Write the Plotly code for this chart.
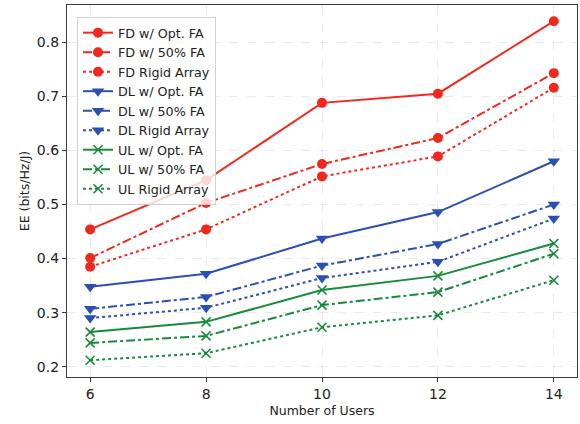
import plotly.graph_objects as go

users = [6, 8, 10, 12, 14]

fd_opt = [0.454, 0.545, 0.688, 0.705, 0.839]
fd_50 = [0.401, 0.503, 0.575, 0.623, 0.743]
fd_rigid = [0.385, 0.454, 0.552, 0.589, 0.716]

dl_opt = [0.348, 0.372, 0.437, 0.486, 0.580]
dl_50 = [0.307, 0.329, 0.387, 0.427, 0.500]
dl_rigid = [0.290, 0.309, 0.364, 0.394, 0.474]

ul_opt = [0.264, 0.283, 0.342, 0.368, 0.428]
ul_50 = [0.244, 0.257, 0.314, 0.338, 0.409]
ul_rigid = [0.212, 0.225, 0.273, 0.295, 0.360]

y_ticks = [0.2, 0.3, 0.4, 0.5, 0.6, 0.7, 0.8]
x_ticks = [6, 8, 10, 12, 14]

RED = "#f0281e"
BLUE = "#2c4fb4"
GREEN = "#188a3a"

series = [
    ("FD w/ Opt. FA", fd_opt, RED, "solid", "circle"),
    ("FD w/ 50% FA", fd_50, RED, "dashdot", "circle"),
    ("FD Rigid Array", fd_rigid, RED, "dot", "circle"),
    ("DL w/ Opt. FA", dl_opt, BLUE, "solid", "triangle-down"),
    ("DL w/ 50% FA", dl_50, BLUE, "dashdot", "triangle-down"),
    ("DL Rigid Array", dl_rigid, BLUE, "dot", "triangle-down"),
    ("UL w/ Opt. FA", ul_opt, GREEN, "solid", "x-thin-open"),
    ("UL w/ 50% FA", ul_50, GREEN, "dashdot", "x-thin-open"),
    ("UL Rigid Array", ul_rigid, GREEN, "dot", "x-thin-open"),
]

fig = go.Figure()
for name, vals, color, dash, sym in series:
    if sym == "x-thin-open":
        marker = dict(symbol=sym, size=9, color=color, line=dict(color=color, width=1.6))
    elif sym == "circle":
        marker = dict(symbol=sym, size=10, color=color, line=dict(width=0))
    else:
        marker = dict(symbol=sym, size=11, color=color, line=dict(width=0))
    fig.add_trace(go.Scatter(
        x=users, y=vals, name=name, mode="lines+markers",
        line=dict(color=color, width=2, dash=dash),
        marker=marker,
    ))

axis_common = dict(
    showline=True, linecolor="#3a3a3a", linewidth=1.3, mirror=True,
    ticks="outside", ticklen=4, tickcolor="#3a3a3a", tickwidth=1,
    showgrid=True, gridcolor="rgba(200,212,226,0.45)", griddash="dash", gridwidth=1,
    zeroline=False,
    tickfont=dict(family="DejaVu Sans", size=14, color="#222"),
)

fig.update_layout(
    width=580, height=424,
    margin=dict(l=67, r=3, t=5, b=47),
    paper_bgcolor="white", plot_bgcolor="white",
    font=dict(family="DejaVu Sans", color="#222"),
    xaxis=dict(range=[5.6, 14.4], tickvals=x_ticks,
               title=dict(text="Number of Users", font=dict(size=12.5), standoff=5),
               **axis_common),
    yaxis=dict(range=[0.181, 0.869], tickvals=y_ticks, tickformat=".1f",
               title=dict(text="EE (bits/Hz/J)", font=dict(size=12.5), standoff=4),
               **axis_common),
    legend=dict(x=0.0196, y=0.968, xanchor="left", yanchor="top",
                bgcolor="rgba(255,255,255,0.8)", bordercolor="#d0d0d0", borderwidth=1,
                font=dict(family="DejaVu Sans", size=12.7, color="#222"),
                tracegroupgap=0, itemwidth=30),
    showlegend=True,
)

fig.write_html("out.html")
